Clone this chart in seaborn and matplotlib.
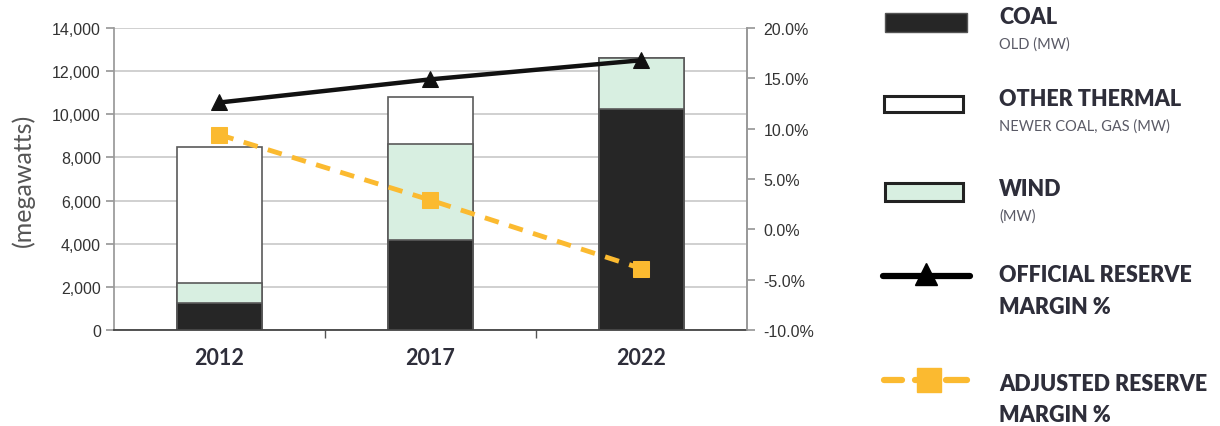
import matplotlib
matplotlib.use("Agg")
import matplotlib.pyplot as plt
import seaborn as sns
import numpy as np
import pandas as pd
from matplotlib.patches import Rectangle
from matplotlib.lines import Line2D

years = ["2012", "2017", "2022"]
coal = [1250, 4150, 10250]
wind = [930, 4470, 2360]
other_thermal = [6290, 2180, 0]
official_margin = [12.6, 14.9, 16.8]
adjusted_margin = [9.4, 2.9, -3.9]

sns.set_theme(style="white")
plt.rcParams['font.family'] = ['Open Sans', 'DejaVu Sans']

COAL_C = "#262626"
WIND_C = "#d8efe1"
EDGE_C = "#5a5a5a"
ORANGE = "#fbba30"
TXT = "#2e2e3a"

fig = plt.figure(figsize=(12.2, 4.27), dpi=100)
ax = fig.add_axes([114/1220, 1-331/427, (747-114)/1220, (331-29)/427])

df = pd.DataFrame({"year": years, "coal": coal, "wind": wind, "other": other_thermal})
df["cw"] = df["coal"] + df["wind"]
df["total"] = df["cw"] + df["other"]

for col, color in [("total", "white"), ("cw", WIND_C), ("coal", COAL_C)]:
    sns.barplot(data=df, x="year", y=col, color=color, ax=ax, width=0.4,
                edgecolor=EDGE_C, linewidth=1.2, saturation=1, zorder=2)

ax.set_ylim(0, 14000)
ax.set_xlim(-0.5, 2.5)
ax.set_yticks(np.arange(0, 14001, 2000))
ax.set_yticklabels([f"{v:,}" for v in range(0, 14001, 2000)], fontsize=11.5, color="#333333",
                   family=["Liberation Sans", "DejaVu Sans"])
ax.yaxis.grid(True, color="#c8c8c8", linewidth=1.2, zorder=0)
ax.set_axisbelow(True)
ax.set_xlabel("")
ax.set_ylabel("(megawatts)", fontsize=18, color="#555555", labelpad=12,
              family=["Lato", "DejaVu Sans"])
ax.set_xticks([0, 1, 2])
ax.set_xticklabels(years, fontsize=15.5, fontweight="bold", color=TXT,
                   family=["Lato", "DejaVu Sans"])
ax.tick_params(axis="x", length=0, pad=12)
ax.tick_params(axis="y", length=6, color="#999999", direction="out", left=True)
ax.set_xticks([0.5, 1.5], minor=True)
ax.tick_params(axis="x", which="minor", length=6, color="#555555", direction="out", bottom=True)
ax.spines["top"].set_visible(False)
ax.spines["left"].set_color("#999999")
ax.spines["right"].set_color("#999999")
ax.spines["bottom"].set_color("#444444")
ax.spines["bottom"].set_linewidth(1.3)

ax2 = ax.twinx()
sns.lineplot(x=[0, 1, 2], y=official_margin, ax=ax2, color="#111111", linewidth=3.2,
             marker="^", markersize=12, markeredgecolor="#111111", zorder=5)
sns.lineplot(x=[0, 1, 2], y=adjusted_margin, ax=ax2, color=ORANGE, linewidth=3.5,
             marker="s", markersize=11, markeredgecolor=ORANGE, zorder=5)
ax2.lines[-1].set_dashes((3, 2.2))
ax2.set_ylim(-10, 20)
ax2.set_yticks(np.arange(-10, 20.1, 5))
ax2.set_yticklabels([f"{v:.1f}%" for v in np.arange(-10, 20.1, 5)], fontsize=11.5, color="#333333",
                    family=["Liberation Sans", "DejaVu Sans"])
ax2.tick_params(axis="y", length=6, color="#999999", direction="out", right=True, pad=6)
ax2.grid(False)
for s in ["top", "left", "bottom"]:
    ax2.spines[s].set_visible(False)
ax2.spines["right"].set_color("#999999")
ax2.set_xlim(-0.5, 2.5)

# Legend drawn on the figure
def fx(px):
    return px / 1220
def fy(py):
    return 1 - py / 427

def rect(x0, y0, x1, y1, fc, lw=2.2, ec="#222222"):
    fig.patches.append(Rectangle((fx(x0), fy(y1)), fx(x1) - fx(x0), fy(y0) - fy(y1),
                                 transform=fig.transFigure, facecolor=fc,
                                 edgecolor=ec, linewidth=lw))

rect(885, 14, 967, 33, COAL_C, lw=1, ec="#555555")
rect(884, 97, 963, 113, "white")
rect(885, 184, 963, 202, WIND_C)
fig.lines.append(Line2D([fx(883), fx(970)], [fy(277), fy(277)], transform=fig.transFigure,
                        color="black", linewidth=4.5, solid_capstyle="round"))
fig.lines.append(Line2D([fx(926)], [fy(275)], transform=fig.transFigure, marker="^",
                        markersize=16, color="black", linestyle="none"))
for xa, xb in [(884, 902), (946, 967)]:
    fig.lines.append(Line2D([fx(xa), fx(xb)], [fy(381), fy(381)], transform=fig.transFigure,
                            color=ORANGE, linewidth=4.5, solid_capstyle="round"))
fig.lines.append(Line2D([fx(915), fx(919)], [fy(381), fy(381)], transform=fig.transFigure,
                        color=ORANGE, linewidth=4.5, solid_capstyle="round"))
fig.lines.append(Line2D([fx(929)], [fy(381)], transform=fig.transFigure, marker="s",
                        markersize=17, color=ORANGE, linestyle="none"))

head = dict(fontsize=15.5, fontweight="heavy", color=TXT, family=["Lato", "DejaVu Sans"],
            va="center", ha="left")
sub = dict(fontsize=10.5, color="#5a5a66", family=["Lato", "DejaVu Sans"], va="center", ha="left")
fig.text(fx(999), fy(18), "COAL", **head)
fig.text(fx(999), fy(45), "OLD (MW)", **sub)
fig.text(fx(999), fy(100), "OTHER THERMAL", **head)
fig.text(fx(999), fy(127), "NEWER COAL, GAS (MW)", **sub)
fig.text(fx(999), fy(190), "WIND", **head)
fig.text(fx(999), fy(217), "(MW)", **sub)
fig.text(fx(999), fy(276), "OFFICIAL RESERVE", **head)
fig.text(fx(999), fy(308), "MARGIN %", **head)
fig.text(fx(999), fy(385), "ADJUSTED RESERVE", **head)
fig.text(fx(999), fy(416), "MARGIN %", **head)

fig.savefig("out.png", dpi=100)
